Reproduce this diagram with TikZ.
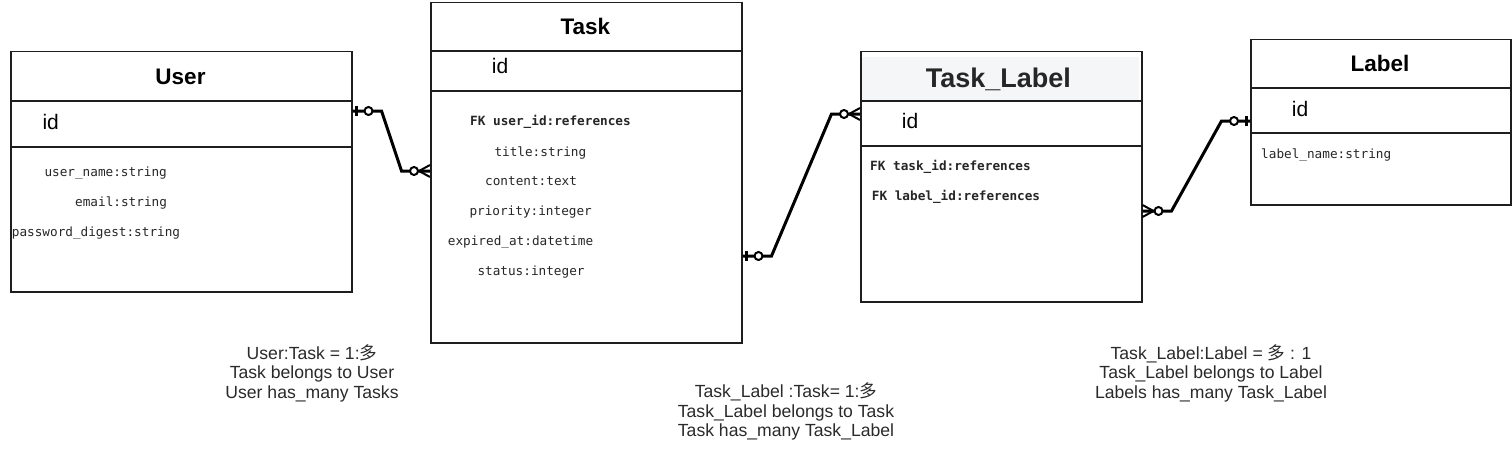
\documentclass[tikz,border=0pt]{standalone}
\usepackage{fontspec}
\setmainfont{Liberation Sans}
\setmonofont{DejaVu Sans Mono}
\newfontfamily\cjk{Noto Sans CJK SC}
\usetikzlibrary{positioning}

\definecolor{boxline}{HTML}{1E1E1E}
\definecolor{headfill}{HTML}{F5F6F8}
\definecolor{notegray}{HTML}{2A2A2A}

\tikzset{
  entity/.style={draw=boxline, line width=1.5pt, anchor=north west, inner sep=0pt},
  head/.style={font=\fontsize{22.5}{24}\selectfont\bfseries, anchor=base},
  bighead/.style={font=\fontsize{27}{30}\selectfont\bfseries, text=black!85, anchor=base},
  key/.style={font=\fontsize{21}{23}\selectfont, anchor=base west, inner sep=0pt},
  attr/.style={font=\ttfamily\fontsize{12.7}{14}\selectfont, text=black!85, anchor=base west, inner sep=0pt},
  fk/.style={attr, font=\ttfamily\bfseries\fontsize{12.7}{14}\selectfont},
  note/.style={align=center, font=\fontsize{17.6}{19.5}\selectfont, text=notegray},
  rel/.style={line width=3pt},
  zeroone/.pic={
    \draw[line width=3pt] (4,-5) -- (4,5);
    \draw[line width=2pt, fill=white] (16,0) circle (4pt);
  },
  zeromany/.pic={
    \draw[line width=2pt] (0,-6) -- (11,0) -- (0,6);
    \draw[line width=2pt, fill=white] (16,0) circle (4pt);
  },
}

\begin{document}
\begin{tikzpicture}[x=1pt, y=-1pt]
  \useasboundingbox (0,0) rectangle (1512,452);

  % User
  \node[entity, minimum width=341pt, minimum height=240pt] (user) at (10,51) {};
  \draw[boxline, line width=1.5pt] ([yshift=-50pt]user.north west) -- ([yshift=-50pt]user.north east);
  \draw[boxline, line width=1.5pt] ([yshift=-96pt]user.north west) -- ([yshift=-96pt]user.north east);
  \node[head] (usertitle) at (180.5,84.3) {User};
  \node[key] (userid) at (42.3,129.3) {id};
  \node[attr] (username) at (44.3,176) {user\_name:string};
  \node[attr] (useremail) at (75,206) {email:string};
  \node[attr] (userpass) at (11.7,236) {password\_digest:string};

  % Task
  \node[entity, minimum width=311pt, minimum height=340pt] (task) at (430,2) {};
  \draw[boxline, line width=1.5pt] ([yshift=-49pt]task.north west) -- ([yshift=-49pt]task.north east);
  \draw[boxline, line width=1.5pt] ([yshift=-89pt]task.north west) -- ([yshift=-89pt]task.north east);
  \node[head] (tasktitle) at (585.3,34.3) {Task};
  \node[key] (taskid) at (491.7,74) {id};
  \node[fk] (taskfk) at (470,125.7) {FK user\_id:references};
  \node[attr] (tasktitleattr) at (494.3,156) {title:string};
  \node[attr] (taskcontent) at (485,185.7) {content:text};
  \node[attr] (taskprio) at (469.3,215.7) {priority:integer};
  \node[attr] (taskexp) at (447.7,245.7) {expired\_at:datetime};
  \node[attr] (taskstatus) at (477.3,275.7) {status:integer};

  % Task_Label
  \node[entity, minimum width=281pt, minimum height=250pt] (tasklabel) at (860,51) {};
  \fill[headfill] ([xshift=2pt,yshift=-6pt]tasklabel.north west) rectangle ([xshift=-4pt,yshift=-49pt]tasklabel.north east);
  \draw[boxline, line width=1.5pt] ([yshift=-50pt]tasklabel.north west) -- ([yshift=-50pt]tasklabel.north east);
  \draw[boxline, line width=1.5pt] ([yshift=-95pt]tasklabel.north west) -- ([yshift=-95pt]tasklabel.north east);
  \node[bighead] (tltitle) at (998.3,87.3) {Task\_Label};
  \node[key] (tlid) at (901.7,128.3) {id};
  \node[fk] (tlfktask) at (870,170.7) {FK task\_id:references};
  \node[fk] (tlfklabel) at (871.7,200.7) {FK label\_id:references};

  % Label
  \node[entity, minimum width=260pt, minimum height=165pt] (label) at (1250,39) {};
  \draw[boxline, line width=1.5pt] ([yshift=-49pt]label.north west) -- ([yshift=-49pt]label.north east);
  \draw[boxline, line width=1.5pt] ([yshift=-94pt]label.north west) -- ([yshift=-94pt]label.north east);
  \node[head] (labeltitle) at (1380,71.7) {Label};
  \node[key] (labelid) at (1291.7,116.7) {id};
  \node[attr] (labelname) at (1261,158.3) {label\_name:string};

  % Relations
  \draw[rel] ([yshift=-60pt]user.north east) coordinate (ut) -- ++(29,0) -- ++(20,60)
     -- ([yshift=-169pt]task.north west) coordinate (tu);
  \draw[rel] ([yshift=-254pt]task.north east) coordinate (tt) -- ++(29,0) -- ++(60,-142)
     -- ([yshift=-63pt]tasklabel.north west) coordinate (tlt);
  \draw[rel] ([yshift=-160pt]tasklabel.north east) coordinate (tll) -- ++(29,0) -- ++(50,-90)
     -- ([yshift=-82pt]label.north west) coordinate (lt);
  \pic at (ut) {zeroone};
  \pic[rotate=180] at (tu) {zeromany};
  \pic at (tt) {zeroone};
  \pic[rotate=180] at (tlt) {zeromany};
  \pic at (tll) {zeromany};
  \pic[rotate=180] at (lt) {zeroone};

  % Notes
  \node[note] (note1) at (312,373) {User:Task = 1:{\cjk 多}\\Task belongs to User\\User has\_many Tasks};
  \node[note] (note2) at (786,411.5) {Task\_Label :Task= 1:{\cjk 多}\\Task\_Label belongs to Task\\Task has\_many Task\_Label};
  \node[note] (note3) at (1211,373) {Task\_Label:Label = {\cjk 多} : 1\\Task\_Label belongs to Label\\Labels has\_many Task\_Label};
\end{tikzpicture}
\end{document}
